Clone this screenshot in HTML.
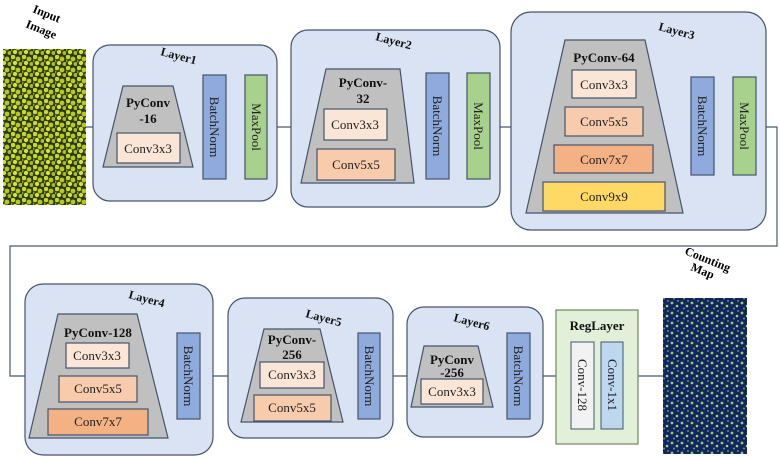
<!DOCTYPE html>
<html><head><meta charset="utf-8"><style>
html,body{margin:0;padding:0;background:#fff;}
svg{display:block;}
svg text{font-family:"Liberation Serif","DejaVu Serif",serif;}
</style></head><body>
<svg width="780" height="458" viewBox="0 0 780 458" xmlns="http://www.w3.org/2000/svg" font-family="Liberation Serif, DejaVu Serif, serif">
<defs>
<pattern id="pIn" width="11" height="11" patternUnits="userSpaceOnUse">
<rect width="11" height="11" fill="#2a3a10"/>
<circle cx="2" cy="2" r="2.3" fill="#c9d62a"/><circle cx="7" cy="4" r="2.4" fill="#b8c81e"/>
<circle cx="4" cy="8" r="2.2" fill="#d6e03a"/><circle cx="9.5" cy="9" r="2" fill="#a9bb20"/>
<circle cx="0" cy="6" r="1.5" fill="#8fa018"/>
</pattern>
<pattern id="pOut" width="10" height="10" patternUnits="userSpaceOnUse">
<rect width="10" height="10" fill="#14245e"/>
<circle cx="2" cy="3" r="1.4" fill="#8fcf6a"/><circle cx="7" cy="6" r="1.3" fill="#a6d86e"/>
<circle cx="4" cy="8.5" r="1" fill="#5f9f8a"/><circle cx="8" cy="1" r="0.9" fill="#6fae7a"/>
</pattern>
</defs>
<g fill="none" stroke="#4a5a6a" stroke-width="1.2">
<polyline points="86,127 777,127 777,246 10,246 10,376 663,376"/>
</g>
<rect x="3" y="49" width="83" height="156" fill="url(#pIn)"/>
<text font-size="12" font-weight="bold" transform="translate(32,12) rotate(22)">Input</text>
<text font-size="12" font-weight="bold" transform="translate(25,27) rotate(22)">Image</text>

<g stroke="#44546a" stroke-width="1.2">
<rect x="93" y="45" width="184" height="156" rx="17" fill="#dae3f3"/>
<polygon points="123,86 173,86 193,167 103,167" fill="#c0c0c0"/>
<rect x="117" y="133" width="63" height="30" fill="#fbe5d6"/>
<rect x="203" y="75" width="23" height="104" fill="#8faadc"/>
<rect x="245" y="75" width="22" height="104" fill="#a9d18e"/>
<rect x="291" y="30" width="209" height="177" rx="17" fill="#dae3f3"/>
<polygon points="326,69 400,69 414,183 301,183" fill="#c0c0c0"/>
<rect x="324" y="109" width="63" height="31" fill="#fbe5d6"/>
<rect x="317" y="149" width="78" height="31" fill="#f8cbad"/>
<rect x="426" y="73" width="23" height="106" fill="#8faadc"/>
<rect x="467" y="73" width="23" height="106" fill="#a9d18e"/>
<rect x="511" y="12" width="255" height="218" rx="20" fill="#dae3f3"/>
<polygon points="565,40 645,40 683,213 526,213" fill="#c0c0c0"/>
<rect x="572" y="70" width="64" height="28" fill="#fbe5d6"/>
<rect x="565" y="107" width="78" height="29" fill="#f8cbad"/>
<rect x="554" y="145" width="99" height="28" fill="#f4b183"/>
<rect x="543" y="182" width="122" height="29" fill="#ffd966"/>
<rect x="691" y="77" width="23" height="98" fill="#8faadc"/>
<rect x="733" y="77" width="23" height="98" fill="#a9d18e"/>
<rect x="25" y="284" width="188" height="171" rx="18" fill="#dae3f3"/>
<polygon points="58,314 137,314 168,438 29,438" fill="#c0c0c0"/>
<rect x="66" y="343" width="63" height="25" fill="#fbe5d6"/>
<rect x="59" y="376" width="78" height="26" fill="#f8cbad"/>
<rect x="48" y="409" width="100" height="26" fill="#f4b183"/>
<rect x="177" y="333" width="23" height="86" fill="#8faadc"/>
<rect x="228" y="298" width="165" height="140" rx="17" fill="#dae3f3"/>
<polygon points="264,329 320,329 343,422 241,422" fill="#c0c0c0"/>
<rect x="260" y="362" width="64" height="26" fill="#fbe5d6"/>
<rect x="254" y="395" width="77" height="26" fill="#f8cbad"/>
<rect x="358" y="333" width="22" height="86" fill="#8faadc"/>
<rect x="407" y="307" width="136" height="130" rx="17" fill="#dae3f3"/>
<polygon points="424,346 478,346 493,407 411,407" fill="#c0c0c0"/>
<rect x="421" y="379" width="62" height="25" fill="#fbe5d6"/>
<rect x="507" y="333" width="23" height="86" fill="#8faadc"/>
</g>
<rect x="556" y="310" width="82" height="134" fill="#e2f0d9" stroke="#6a8a5a" stroke-width="1.2"/>
<rect x="571" y="342" width="23" height="87" fill="#f2f2f2" stroke="#44546a" stroke-width="1"/>
<rect x="601" y="342" width="22" height="87" fill="#bdd7ee" stroke="#44546a" stroke-width="1"/>
<rect x="663" y="298" width="84" height="156" fill="url(#pOut)"/>
<text font-size="12" font-weight="bold" transform="translate(684,254) rotate(22)">Counting</text>
<text font-size="12" font-weight="bold" transform="translate(690,270) rotate(22)">Map</text>

<g font-size="12" font-weight="bold" fill="#111">
<text transform="translate(160,55) rotate(15)">Layer1</text>
<text transform="translate(375,40) rotate(15)">Layer2</text>
<text transform="translate(658,30) rotate(15)">Layer3</text>
<text transform="translate(128,298) rotate(15)">Layer4</text>
<text transform="translate(305,317) rotate(15)">Layer5</text>
<text transform="translate(453,321) rotate(15)">Layer6</text>
</g>
<g font-size="13" font-weight="bold" fill="#111" text-anchor="middle">
<text x="148" y="107">PyConv</text><text x="148" y="123">-16</text>
<text x="363" y="87">PyConv-</text><text x="363" y="103">32</text>
<text x="604" y="62">PyConv-64</text>
<text x="98" y="337">PyConv-128</text>
<text x="292" y="344">PyConv-</text><text x="292" y="359">256</text>
<text x="452" y="364">PyConv</text><text x="452" y="377">-256</text>
<text x="597" y="330">RegLayer</text>
</g>
<g font-size="13" fill="#222" text-anchor="middle">
<text x="148" y="153">Conv3x3</text>
<text x="355" y="129">Conv3x3</text>
<text x="356" y="169">Conv5x5</text>
<text x="604" y="89">Conv3x3</text>
<text x="604" y="126">Conv5x5</text>
<text x="604" y="164">Conv7x7</text>
<text x="604" y="201">Conv9x9</text>
<text x="97" y="360">Conv3x3</text>
<text x="98" y="393">Conv5x5</text>
<text x="98" y="426">Conv7x7</text>
<text x="292" y="379">Conv3x3</text>
<text x="292" y="412">Conv5x5</text>
<text x="452" y="396">Conv3x3</text>
</g>
<g font-size="13" fill="#222" text-anchor="middle">
<text transform="translate(210,127) rotate(90)">BatchNorm</text>
<text transform="translate(252,127) rotate(90)">MaxPool</text>
<text transform="translate(433,126) rotate(90)">BatchNorm</text>
<text transform="translate(474,126) rotate(90)">MaxPool</text>
<text transform="translate(698,126) rotate(90)">BatchNorm</text>
<text transform="translate(740,126) rotate(90)">MaxPool</text>
<text transform="translate(184,376) rotate(90)">BatchNorm</text>
<text transform="translate(365,376) rotate(90)">BatchNorm</text>
<text transform="translate(514,376) rotate(90)">BatchNorm</text>
<text transform="translate(578,385) rotate(90)">Conv-128</text>
<text transform="translate(608,385) rotate(90)">Conv-1x1</text>
</g>
</svg>
</body></html>
